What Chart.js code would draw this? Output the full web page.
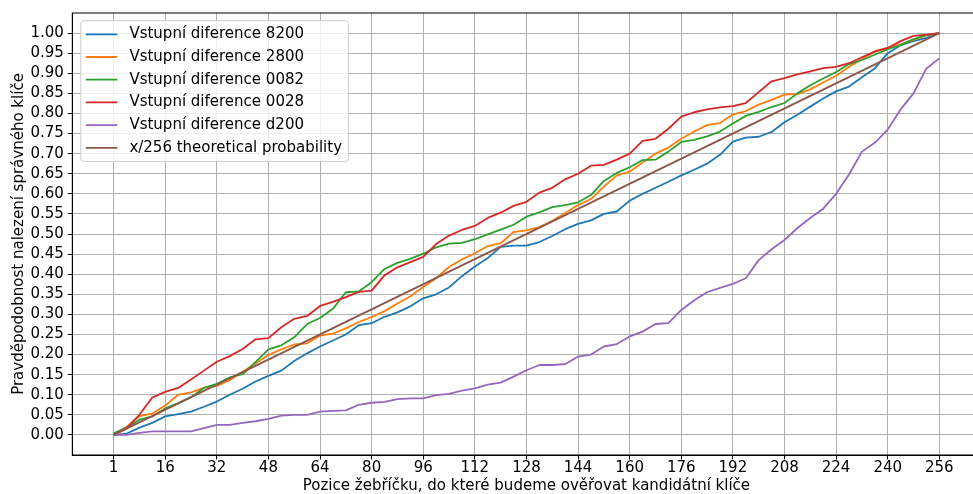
<!DOCTYPE html>
<html>
<head>
<meta charset="utf-8">
<style>
html,body{margin:0;padding:0;overflow:hidden;background:#fff;width:973px;height:494px}
canvas{display:block}
</style>
<script src="https://cdn.jsdelivr.net/npm/chart.js@4.4.0/dist/chart.umd.min.js"></script>
</head>
<body>
<canvas id="c" width="1000" height="494" style="width:1000px;height:494px"></canvas>
<script>
// ---------- data ----------
const ranks = [0,4,8,12,16,20,24,28,32,36,40,44,48,52,56,60,64,68,72,76,80,84,88,92,96,100,104,108,112,116,120,124,128,132,136,140,144,148,152,156,160,164,168,172,176,180,184,188,192,196,200,204,208,212,216,220,224,228,232,236,240,244,248,252,256];

const diff8200 = [0,0.003,0.018,0.030,0.046,0.052,0.058,0.070, 0.083,0.100,0.115,0.133,0.147,0.160,0.184,0.203, 0.220,0.235,0.250,0.273,0.278,0.294,0.305,0.320, 0.340,0.350,0.367,0.395,0.419,0.440,0.468,0.471, 0.471,0.480,0.495,0.512,0.525,0.534,0.550,0.556, 0.583,0.600,0.615,0.630,0.646,0.660,0.675,0.697, 0.730,0.740,0.742,0.754,0.778,0.797,0.817,0.837, 0.855,0.867,0.890,0.912,0.950,0.970,0.980,0.988, 1.000];
const diff2800 = [0,0.020,0.047,0.053,0.073,0.100,0.106,0.117, 0.122,0.136,0.157,0.178,0.199,0.213,0.225,0.228, 0.247,0.252,0.265,0.281,0.293,0.308,0.327,0.345, 0.368,0.390,0.418,0.437,0.452,0.470,0.477,0.505, 0.509,0.517,0.533,0.552,0.572,0.587,0.618,0.646, 0.655,0.678,0.700,0.715,0.737,0.755,0.771,0.776, 0.798,0.806,0.822,0.834,0.847,0.848,0.860,0.877, 0.894,0.916,0.935,0.955,0.963,0.972,0.983,0.995, 1.000];
const diff0082 = [0.004,0.018,0.038,0.046,0.066,0.079,0.094,0.117, 0.127,0.143,0.151,0.181,0.213,0.223,0.243,0.276, 0.291,0.314,0.355,0.357,0.380,0.413,0.428,0.438, 0.451,0.467,0.476,0.478,0.487,0.499,0.511,0.523, 0.543,0.554,0.567,0.572,0.579,0.597,0.632,0.652, 0.666,0.684,0.685,0.705,0.729,0.734,0.743,0.755, 0.775,0.794,0.804,0.816,0.826,0.850,0.870,0.887, 0.903,0.923,0.933,0.946,0.960,0.970,0.985,0.995, 1.000];
const diff0028 = [0,0.016,0.050,0.093,0.107,0.117,0.138,0.160, 0.182,0.196,0.214,0.238,0.241,0.268,0.289,0.296, 0.321,0.331,0.343,0.356,0.359,0.397,0.417,0.430, 0.443,0.475,0.496,0.510,0.520,0.540,0.553,0.570, 0.580,0.603,0.615,0.636,0.650,0.670,0.672,0.685, 0.700,0.732,0.737,0.762,0.792,0.803,0.810,0.815, 0.818,0.826,0.853,0.880,0.888,0.897,0.905,0.913, 0.916,0.925,0.940,0.954,0.963,0.980,0.993,0.996, 1.000];
const diffD200 = [0,0,0.005,0.009,0.009,0.009,0.009,0.017, 0.025,0.025,0.030,0.034,0.040,0.048,0.050,0.050, 0.058,0.060,0.061,0.075,0.080,0.082,0.089,0.091, 0.091,0.099,0.102,0.110,0.116,0.125,0.130,0.145, 0.161,0.174,0.174,0.176,0.195,0.200,0.220,0.226, 0.245,0.257,0.276,0.278,0.311,0.335,0.355,0.366, 0.376,0.390,0.435,0.462,0.485,0.515,0.540,0.563, 0.600,0.648,0.705,0.727,0.760,0.810,0.850,0.912, 0.937];
const theoryX = [0,256];
const theoryY = [0,1];

const seriesNames = ["Vstupní diference 8200","Vstupní diference 2800","Vstupní diference 0082","Vstupní diference 0028","Vstupní diference d200","x/256 theoretical probability"];
const xTickValues = [0,16,32,48,64,80,96,112,128,144,160,176,192,208,224,240,256];
const xTickLabels = ["1","16","32","48","64","80","96","112","128","144","160","176","192","208","224","240","256"];
const yTickValues = [0,0.05,0.10,0.15,0.20,0.25,0.30,0.35,0.40,0.45,0.50,0.55,0.60,0.65,0.70,0.75,0.80,0.85,0.90,0.95,1.00];
const xTitle = "Pozice žebříčku, do které budeme ověřovat kandidátní klíče";
const yTitle = "Pravděpodobnost nalezení správného klíče";

// ---------- styling ----------
const colors = ['#1f77b4','#ff7f0e','#2ca02c','#d62728','#9467bd','#8c564b'];
const FONT = "'DejaVu Sans', sans-serif";
const FS = 15;
Chart.defaults.font.family = FONT;
Chart.defaults.font.size = FS;
Chart.defaults.color = '#000';

function pts(xs, ys){ return xs.map((x,i)=>({x:x, y:ys[i]})); }
const seriesData = [pts(ranks,diff8200), pts(ranks,diff2800), pts(ranks,diff0082), pts(ranks,diff0028), pts(ranks,diffD200), pts(theoryX,theoryY)];

const datasets = seriesData.map((d,i)=>({
  label: seriesNames[i],
  data: d,
  borderColor: colors[i],
  backgroundColor: colors[i],
  borderWidth: 1.8,
  pointRadius: 0,
  tension: 0,
  fill: false,
  borderJoinStyle: 'round',
  order: 10 - i
}));

const framePlugin = {
  id: 'frameAndLegend',
  afterDatasetsDraw(chart){
    const ctx = chart.ctx, a = chart.chartArea;
    ctx.save();
    ctx.strokeStyle = '#000';
    ctx.lineWidth = 1;
    ctx.strokeRect(a.left, a.top, a.right - a.left, a.bottom - a.top);
    // legend inside the axes (upper left)
    ctx.font = FS + 'px ' + FONT;
    let maxW = 0;
    chart.data.datasets.forEach(ds => { maxW = Math.max(maxW, ctx.measureText(ds.label).width); });
    const bx = a.left + 8.5, by = a.top + 7.7;
    const rowH = 22.7;
    const n = chart.data.datasets.length;
    const textX = bx + 48.6;
    const bw = (textX + maxW + 6.5) - bx;
    const bh = 13.6 * 2 + rowH * (n - 1);
    ctx.beginPath();
    ctx.roundRect(bx, by, bw, bh, 3);
    ctx.fillStyle = 'rgba(255,255,255,0.8)';
    ctx.fill();
    ctx.strokeStyle = '#cccccc';
    ctx.lineWidth = 1;
    ctx.stroke();
    chart.data.datasets.forEach((ds, i) => {
      const cy = by + 13.6 + i * rowH;
      ctx.beginPath();
      ctx.moveTo(bx + 5, cy);
      ctx.lineTo(bx + 36.6, cy);
      ctx.strokeStyle = ds.borderColor;
      ctx.lineWidth = 1.8;
      ctx.stroke();
      ctx.fillStyle = '#000';
      ctx.textBaseline = 'middle';
      ctx.textAlign = 'left';
      ctx.fillText(ds.label, textX, cy);
    });
    ctx.restore();
  }
};

new Chart(document.getElementById('c'), {
  type: 'line',
  data: { datasets: datasets },
  options: {
    responsive: false,
    devicePixelRatio: 1,
    animation: false,
    events: [],
    layout: { padding: { left: 0, top: 12.3, right: 19.4, bottom: 0 } },
    plugins: { legend: { display: false }, tooltip: { enabled: false } },
    scales: {
      x: {
        type: 'linear',
        min: -12.8, max: 268.8,
        afterBuildTicks: s => { s.ticks = xTickValues.map(v => ({ value: v })); },
        afterFit: s => { s.height = 39; },
        ticks: { autoSkip: false, maxRotation: 0, minRotation: 0, padding: 0, color: '#000',
                 callback: (v, i) => xTickLabels[i] },
        grid: { color: '#b0b0b0', lineWidth: 1, tickLength: 4.5, tickColor: '#000', tickWidth: 1 },
        border: { color: '#000', width: 1 },
        title: { display: true, text: xTitle, color: '#000', font: { size: FS, lineHeight: 1.1 }, padding: { top: 0, bottom: 0 } }
      },
      y: {
        type: 'linear',
        min: -0.05, max: 1.05,
        afterBuildTicks: s => { s.ticks = yTickValues.map(v => ({ value: v })); },
        afterFit: s => { s.width = 72.3; },
        ticks: { autoSkip: false, padding: 4, color: '#000', callback: v => Number(v).toFixed(2) },
        grid: { color: '#b0b0b0', lineWidth: 1, tickLength: 4.5, tickColor: '#000', tickWidth: 1 },
        border: { color: '#000', width: 1 },
        title: { display: true, text: yTitle, color: '#000', font: { size: FS, lineHeight: 1.2 }, padding: { top: 10, bottom: 0 } }
      }
    }
  },
  plugins: [framePlugin]
});
</script>
</body>
</html>
